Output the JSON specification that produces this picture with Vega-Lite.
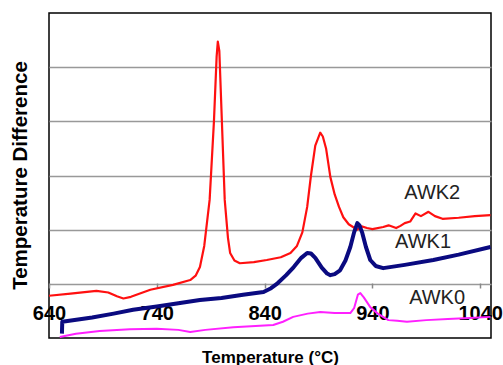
{
  "$schema": "https://vega.github.io/schema/vega-lite/v6.json",
  "width": 442,
  "height": 325,
  "autosize": "none",
  "padding": {"left": 49, "top": 13, "right": 12, "bottom": 27},
  "background": "white",
  "config": {
    "font": "Liberation Sans",
    "view": {"stroke": "#000", "strokeWidth": 1.5}
  },
  "datasets": {
    "curves": [
      {"s": "AWK2", "T": 640, "v": 0.78}, {"s": "AWK2", "T": 660, "v": 0.82}, {"s": "AWK2", "T": 684, "v": 0.87},
      {"s": "AWK2", "T": 695, "v": 0.84}, {"s": "AWK2", "T": 703, "v": 0.77}, {"s": "AWK2", "T": 709, "v": 0.73},
      {"s": "AWK2", "T": 716, "v": 0.76}, {"s": "AWK2", "T": 734, "v": 0.89}, {"s": "AWK2", "T": 755, "v": 0.98},
      {"s": "AWK2", "T": 771, "v": 1.07}, {"s": "AWK2", "T": 776, "v": 1.15}, {"s": "AWK2", "T": 780, "v": 1.31},
      {"s": "AWK2", "T": 784, "v": 1.7}, {"s": "AWK2", "T": 789, "v": 2.55}, {"s": "AWK2", "T": 793, "v": 4.0},
      {"s": "AWK2", "T": 795.5, "v": 5.2}, {"s": "AWK2", "T": 796.6, "v": 5.47}, {"s": "AWK2", "T": 798, "v": 5.3},
      {"s": "AWK2", "T": 800, "v": 4.2}, {"s": "AWK2", "T": 803, "v": 2.55}, {"s": "AWK2", "T": 806, "v": 1.85},
      {"s": "AWK2", "T": 808, "v": 1.57}, {"s": "AWK2", "T": 812, "v": 1.43}, {"s": "AWK2", "T": 817, "v": 1.38},
      {"s": "AWK2", "T": 830, "v": 1.4}, {"s": "AWK2", "T": 842, "v": 1.44}, {"s": "AWK2", "T": 855, "v": 1.49},
      {"s": "AWK2", "T": 864, "v": 1.57}, {"s": "AWK2", "T": 870, "v": 1.7}, {"s": "AWK2", "T": 875, "v": 1.95},
      {"s": "AWK2", "T": 879.5, "v": 2.42}, {"s": "AWK2", "T": 883, "v": 3.0}, {"s": "AWK2", "T": 887, "v": 3.55},
      {"s": "AWK2", "T": 891.6, "v": 3.79}, {"s": "AWK2", "T": 894, "v": 3.72}, {"s": "AWK2", "T": 897, "v": 3.5},
      {"s": "AWK2", "T": 901, "v": 2.97}, {"s": "AWK2", "T": 905, "v": 2.65}, {"s": "AWK2", "T": 909, "v": 2.42},
      {"s": "AWK2", "T": 913, "v": 2.23}, {"s": "AWK2", "T": 918, "v": 2.1}, {"s": "AWK2", "T": 922, "v": 2.05},
      {"s": "AWK2", "T": 926, "v": 2.0}, {"s": "AWK2", "T": 930, "v": 2.06}, {"s": "AWK2", "T": 935, "v": 2.03},
      {"s": "AWK2", "T": 940, "v": 2.01}, {"s": "AWK2", "T": 950, "v": 2.05}, {"s": "AWK2", "T": 955, "v": 2.08},
      {"s": "AWK2", "T": 962, "v": 2.03}, {"s": "AWK2", "T": 966, "v": 2.07}, {"s": "AWK2", "T": 970, "v": 2.12},
      {"s": "AWK2", "T": 975, "v": 2.15}, {"s": "AWK2", "T": 980, "v": 2.3}, {"s": "AWK2", "T": 985, "v": 2.25},
      {"s": "AWK2", "T": 992, "v": 2.33}, {"s": "AWK2", "T": 998, "v": 2.25}, {"s": "AWK2", "T": 1005, "v": 2.2},
      {"s": "AWK2", "T": 1020, "v": 2.22}, {"s": "AWK2", "T": 1035, "v": 2.25}, {"s": "AWK2", "T": 1049.5, "v": 2.27},

      {"s": "AWK1", "T": 652, "v": 0.08}, {"s": "AWK1", "T": 652.3, "v": 0.3}, {"s": "AWK1", "T": 680, "v": 0.38},
      {"s": "AWK1", "T": 700, "v": 0.45}, {"s": "AWK1", "T": 718, "v": 0.52}, {"s": "AWK1", "T": 740, "v": 0.58},
      {"s": "AWK1", "T": 760, "v": 0.64}, {"s": "AWK1", "T": 780, "v": 0.7}, {"s": "AWK1", "T": 800, "v": 0.74},
      {"s": "AWK1", "T": 820, "v": 0.8}, {"s": "AWK1", "T": 839, "v": 0.85}, {"s": "AWK1", "T": 846, "v": 0.92},
      {"s": "AWK1", "T": 852, "v": 1.01}, {"s": "AWK1", "T": 860, "v": 1.16}, {"s": "AWK1", "T": 867, "v": 1.31},
      {"s": "AWK1", "T": 874, "v": 1.48}, {"s": "AWK1", "T": 879.5, "v": 1.57}, {"s": "AWK1", "T": 883, "v": 1.56},
      {"s": "AWK1", "T": 887, "v": 1.48}, {"s": "AWK1", "T": 893, "v": 1.3}, {"s": "AWK1", "T": 898, "v": 1.19},
      {"s": "AWK1", "T": 901, "v": 1.16}, {"s": "AWK1", "T": 905, "v": 1.18}, {"s": "AWK1", "T": 910, "v": 1.25},
      {"s": "AWK1", "T": 915, "v": 1.43}, {"s": "AWK1", "T": 919.5, "v": 1.68}, {"s": "AWK1", "T": 923, "v": 1.95},
      {"s": "AWK1", "T": 926, "v": 2.12}, {"s": "AWK1", "T": 928, "v": 2.08}, {"s": "AWK1", "T": 930.6, "v": 1.94},
      {"s": "AWK1", "T": 934, "v": 1.68}, {"s": "AWK1", "T": 938, "v": 1.44}, {"s": "AWK1", "T": 943, "v": 1.33},
      {"s": "AWK1", "T": 950, "v": 1.29}, {"s": "AWK1", "T": 970, "v": 1.35}, {"s": "AWK1", "T": 996.5, "v": 1.44},
      {"s": "AWK1", "T": 1020, "v": 1.54}, {"s": "AWK1", "T": 1049.5, "v": 1.68},

      {"s": "AWK0", "T": 650, "v": 0.02}, {"s": "AWK0", "T": 665, "v": 0.08}, {"s": "AWK0", "T": 687, "v": 0.13},
      {"s": "AWK0", "T": 715, "v": 0.16}, {"s": "AWK0", "T": 740, "v": 0.17}, {"s": "AWK0", "T": 760, "v": 0.15},
      {"s": "AWK0", "T": 771, "v": 0.11}, {"s": "AWK0", "T": 785, "v": 0.15}, {"s": "AWK0", "T": 811, "v": 0.2},
      {"s": "AWK0", "T": 848, "v": 0.24}, {"s": "AWK0", "T": 857, "v": 0.3}, {"s": "AWK0", "T": 866.5, "v": 0.39},
      {"s": "AWK0", "T": 880, "v": 0.45}, {"s": "AWK0", "T": 891.6, "v": 0.48}, {"s": "AWK0", "T": 905, "v": 0.46},
      {"s": "AWK0", "T": 919.5, "v": 0.46}, {"s": "AWK0", "T": 923, "v": 0.55}, {"s": "AWK0", "T": 926.5, "v": 0.8},
      {"s": "AWK0", "T": 928.8, "v": 0.83}, {"s": "AWK0", "T": 932, "v": 0.75}, {"s": "AWK0", "T": 938, "v": 0.57},
      {"s": "AWK0", "T": 945, "v": 0.45}, {"s": "AWK0", "T": 954.8, "v": 0.33}, {"s": "AWK0", "T": 963, "v": 0.32},
      {"s": "AWK0", "T": 972, "v": 0.3}, {"s": "AWK0", "T": 990, "v": 0.33}, {"s": "AWK0", "T": 1010, "v": 0.35},
      {"s": "AWK0", "T": 1030, "v": 0.37}, {"s": "AWK0", "T": 1049.5, "v": 0.39}
    ],
    "labels": [
      {"s": "AWK2", "T": 995.5, "v": 2.68},
      {"s": "AWK1", "T": 987, "v": 1.77},
      {"s": "AWK0", "T": 1000, "v": 0.74}
    ]
  },
  "encoding": {
    "x": {
      "field": "T", "type": "quantitative",
      "scale": {"domain": [640, 1050], "nice": false, "zero": false},
      "axis": {
        "title": "Temperature (°C)",
        "values": [640, 740, 840, 940, 1040],
        "format": "d",
        "offset": -55,
        "domain": false,
        "grid": false,
        "tickSize": 5,
        "tickColor": "#888",
        "tickWidth": 1.5,
        "labelFontSize": 20,
        "labelFontWeight": "bold",
        "labelColor": "#000",
        "labelPadding": 15,
        "labelFlush": false,
        "titleFontSize": 17,
        "titleFontWeight": "bold",
        "titleColor": "#000",
        "titleY": 79,
        "titleBaseline": "alphabetic"
      }
    },
    "y": {
      "field": "v", "type": "quantitative",
      "scale": {"domain": [0, 6], "nice": false},
      "axis": {
        "title": "Temperature Difference",
        "values": [1, 2, 3, 4, 5],
        "labels": false,
        "ticks": false,
        "domain": false,
        "grid": true,
        "gridColor": "#999",
        "gridWidth": 1.5,
        "gridOpacity": 1,
        "titleFontSize": 20.5,
        "titleFontWeight": "bold",
        "titleColor": "#000",
        "titleX": -29,
        "titleY": 162,
        "titleBaseline": "middle",
        "titleAngle": -90
      }
    }
  },
  "layer": [
    {
      "data": {"name": "curves"},
      "transform": [{"filter": "datum.s === 'AWK2'"}],
      "mark": {"type": "line", "strokeJoin": "round", "clip": true, "color": "#ff1010", "strokeWidth": 2.2},
      "encoding": {"order": {"field": "T", "type": "quantitative"}}
    },
    {
      "data": {"name": "curves"},
      "transform": [{"filter": "datum.s === 'AWK1'"}],
      "mark": {"type": "line", "strokeJoin": "round", "clip": true, "color": "#0a0a80", "strokeWidth": 4},
      "encoding": {"order": {"field": "T", "type": "quantitative"}}
    },
    {
      "data": {"name": "curves"},
      "transform": [{"filter": "datum.s === 'AWK0'"}],
      "mark": {"type": "line", "strokeJoin": "round", "clip": true, "color": "#ff20ff", "strokeWidth": 2},
      "encoding": {"order": {"field": "T", "type": "quantitative"}}
    },
    {
      "data": {"name": "labels"},
      "mark": {"type": "text", "fontSize": 20, "color": "#222", "align": "center", "baseline": "middle"},
      "encoding": {
        "text": {"field": "s"}
      }
    }
  ]
}
